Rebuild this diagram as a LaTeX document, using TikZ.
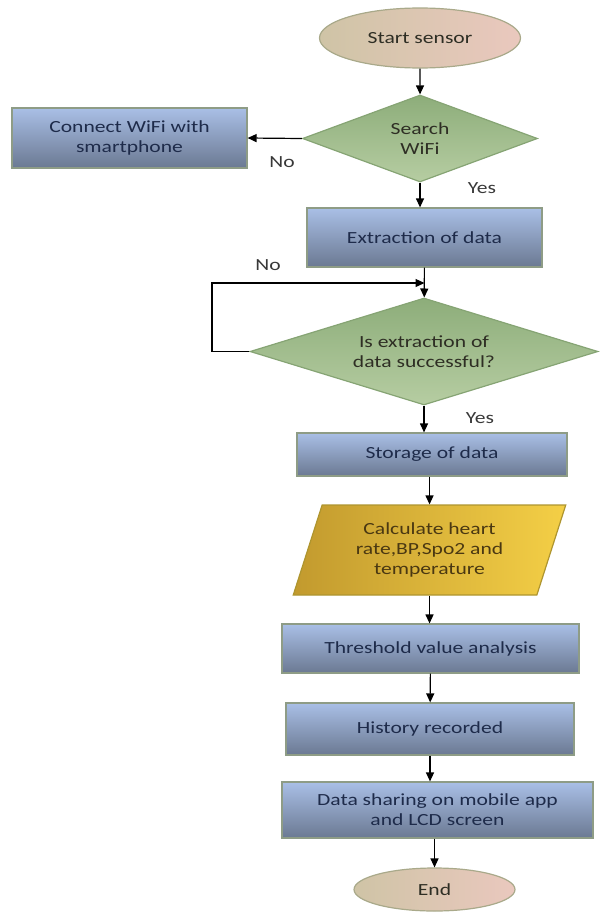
\documentclass[tikz,border=0pt]{standalone}
\usepackage{fontspec}
\setmainfont{Carlito}[FakeStretch=1.27]
\usetikzlibrary{shapes.geometric,arrows.meta}

\definecolor{termleft}{HTML}{CFC4A6}
\definecolor{termright}{HTML}{EAC8BE}
\definecolor{termline}{HTML}{A9A98A}
\definecolor{dectop}{HTML}{8DAD7A}
\definecolor{decbot}{HTML}{B6CDA2}
\definecolor{decline}{HTML}{86A474}
\definecolor{proctop}{HTML}{A9BFE6}
\definecolor{procbot}{HTML}{6B7992}
\definecolor{procline}{HTML}{8E9C86}
\definecolor{ioleft}{HTML}{C29A2E}
\definecolor{ioright}{HTML}{F4CF46}
\definecolor{ioline}{HTML}{AE952F}
\definecolor{textblue}{HTML}{1E2B4A}
\definecolor{textdark}{HTML}{2E2E24}
\definecolor{textbrown}{HTML}{4A3812}

\begin{document}
\begin{tikzpicture}[scale=0.17575,
  terminal/.style={ellipse, draw=termline, line width=0.6pt, left color=termleft, right color=termright, text=textdark},
  decision/.style={diamond, draw=decline, line width=0.6pt, top color=dectop, bottom color=decbot, text=textdark},
  process/.style={rectangle, draw=procline, line width=0.6pt, top color=proctop, bottom color=procbot, text=textblue},
  inout/.style={trapezium, trapezium left angle=70, trapezium right angle=110, trapezium stretches=true, draw=ioline, line width=0.6pt, left color=ioleft, right color=ioright, text=textbrown},
  link/.style={draw=black, line width=0.6pt, -{Triangle[length=4.5pt,width=4pt]}},
  answer/.style={text=black!78}]
\tikzstyle{every node}+=[inner sep=0pt, align=center, font=\fontsize{8.5}{10}\selectfont]
\useasboundingbox (0,0) rectangle (59.9,-91.2);
\node [terminal, minimum width=100.5pt, minimum height=30pt] (start) at (42.0,-3.8) {Start sensor};
\node [decision, shape aspect=2.7, minimum width=117.5pt, minimum height=43.5pt] (search) at (42.0,-13.85) {Search\\WiFi};
\node [process, minimum width=117.5pt, minimum height=30pt] (connect) at (12.95,-13.8) {Connect WiFi with\\smartphone};
\node [process, minimum width=117.5pt, minimum height=29.5pt] (extract) at (42.45,-23.75) {Extraction of data};
\node [decision, shape aspect=3.25, minimum width=174pt, minimum height=53.5pt] (isok) at (42.4,-35.15) {Is extraction of\\data successful?};
\node [process, minimum width=135pt, minimum height=21.5pt] (store) at (43.2,-45.45) {Storage of data};
\node [inout, minimum width=137.5pt, minimum height=45pt] (calc) at (42.95,-55.0) {Calculate heart\\rate,BP,Spo2 and\\temperature};
\node [process, minimum width=148.5pt, minimum height=24.5pt] (thresh) at (43.05,-64.85) {Threshold value analysis};
\node [process, minimum width=144pt, minimum height=26pt] (hist) at (43.0,-72.9) {History recorded};
\node [process, minimum width=155.5pt, minimum height=28pt] (share) at (43.75,-81.0) {Data sharing on mobile app\\and LCD screen};
\node [terminal, minimum width=80.5pt, minimum height=21.5pt] (end) at (43.45,-88.95) {End};
% answers
\node [answer] (nowifi) at (28.2,-16.2) {No};
\node [answer] (yeswifi) at (48.2,-18.8) {Yes};
\node [answer] (noextract) at (26.8,-26.5) {No};
\node [answer] (yesextract) at (48.0,-41.8) {Yes};
% loop back
\coordinate (loopcorner) at (21.2,-35.15);
\coordinate (join) at (42.45,-28.3);
% connectors
\draw [link] (start) -- (search);
\draw [link] (search.west) -- (connect.east);
\draw [link] (search.south) -- (search.south |- extract.north);
\draw [link] (extract) -- (isok);
\draw [link] (isok.west) -- (loopcorner) |- (join);
\draw [link] (isok.south) -- (isok.south |- store.north);
\draw [link] (calc.north |- store.south) -- (calc.north);
\draw [link] (calc.south) -- (calc.south |- thresh.north);
\draw [link] (thresh) -- (hist);
\draw [link] (hist.south) -- (hist.south |- share.north);
\draw [link] (end.north |- share.south) -- (end.north);
\end{tikzpicture}
\end{document}
